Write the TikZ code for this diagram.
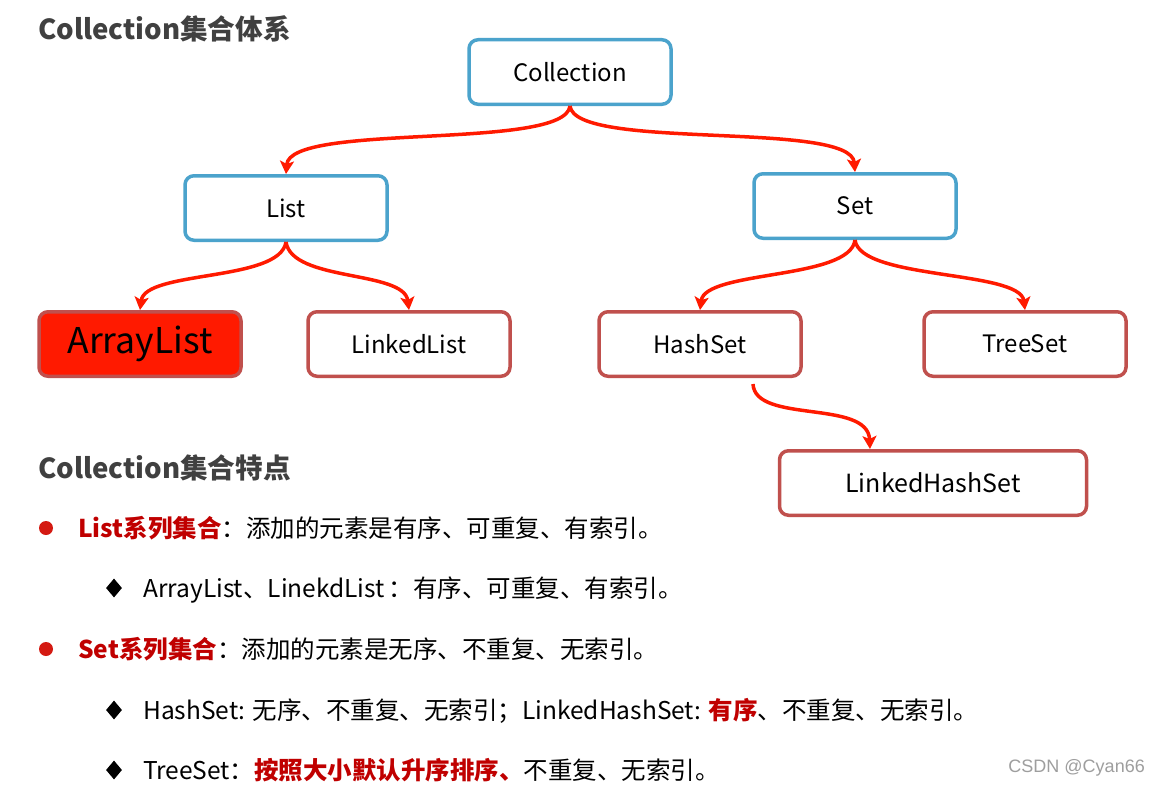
\documentclass[tikz,border=0pt]{standalone}
\usepackage{fontspec}
\setmainfont{Noto Sans CJK SC}
\newfontfamily\wmfont{Liberation Sans}
\usetikzlibrary{arrows.meta,shapes.geometric}
\definecolor{boxblue}{HTML}{4BA3CC}
\definecolor{boxred}{HTML}{C0504D}
\definecolor{arrred}{HTML}{FF1A00}
\definecolor{darkred}{HTML}{C00000}
\definecolor{headgray}{HTML}{404040}
\definecolor{bulred}{HTML}{D41A12}
\definecolor{alfill}{HTML}{FF1A00}
\begin{document}
\begin{tikzpicture}[x=1pt,y=-1pt,
  box/.style={draw, line width=3.5pt, rounded corners=9pt, minimum width=202pt, minimum height=64.5pt, fill=white, inner sep=0pt, font=\fontsize{24}{28}\selectfont},
  bluebox/.style={box, draw=boxblue},
  redbox/.style={box, draw=boxred},
  conn/.style={draw=arrred, line width=3.5pt, -{Stealth[length=13pt,width=14pt,inset=3pt]}},
  head/.style={anchor=base west, inner sep=0pt, text=headgray, font=\bfseries\fontsize{27.6}{32}\selectfont},
  body/.style={anchor=base west, inner sep=0pt, font=\fontsize{24.5}{28}\selectfont},
  dot/.style={circle, fill=bulred, inner sep=0pt, minimum size=14pt},
  dia/.style={diamond, fill=black, inner sep=0pt, minimum width=16pt, minimum height=19pt}]
\path[use as bounding box, fill=white] (0,0) rectangle (1161,784);

% tree
\node[bluebox] (coll) at (570,72) {Collection};
\node[bluebox] (list) at (286,208) {List};
\node[bluebox] (set) at (855,206) {Set};
\node[redbox, fill=alfill, font=\fontsize{35.5}{40}\selectfont] (al) at (140,344) {ArrayList};
\node[redbox] (ll) at (409,344) {LinkedList};
\node[redbox] (hs) at (700,344) {HashSet};
\node[redbox] (ts) at (1025,344) {TreeSet};
\node[redbox, minimum width=307pt, font=\fontsize{25}{28}\selectfont] (lhs) at (933,483) {LinkedHashSet};

\draw[conn] (coll.south) .. controls ++(-5,45) and ++(4,-52) .. (list.north);
\draw[conn] (coll.south) .. controls ++(5,45) and ++(-4,-52) .. (set.north);
\draw[conn] (list.south) .. controls ++(-6,40) and ++(5,-40) .. (al.north);
\draw[conn] (list.south) .. controls ++(6,40) and ++(-5,-40) .. (ll.north);
\draw[conn] (set.south) .. controls ++(-5,40) and ++(5,-40) .. (hs.north);
\draw[conn] (set.south) .. controls ++(5,40) and ++(-5,-40) .. (ts.north);
\coordinate (hsout) at (753,384);
\draw[conn] (hsout) .. controls ++(2,40) and ++(-2,-50) .. (lhs.north -| 870,0);

% headings
\node[head] (h1) at (38,40) {Collection集合体系};
\node[head] (h2) at (38,478) {Collection集合特点};

% bullets
\node[dot] (d1) at (46,528) {};
\node[body] (l1) at (78,537) {{\bfseries\color{darkred}List系列集合}：添加的元素是有序、可重复、有索引。};
\node[dia] (d2) at (114,588) {};
\node[body] (l2) at (143,597) {ArrayList、LinekdList\,：有序、可重复、有索引。};
\node[dot] (d3) at (46,649) {};
\node[body] (l3) at (78,658) {{\bfseries\color{darkred}Set系列集合}：添加的元素是无序、不重复、无索引。};
\node[dia] (d4) at (114,710) {};
\node[body] (l4) at (143,719) {HashSet: 无序、不重复、无索引；LinkedHashSet: {\bfseries\color{darkred}有序}、不重复、无索引。};
\node[dia] (d5) at (114,770) {};
\node[body] (l5) at (143,779) {TreeSet：{\bfseries\color{darkred}按照大小默认升序排序、}不重复、无索引。};

\node[anchor=base east, inner sep=0pt, text=black!38, font=\wmfont\fontsize{18}{20}\selectfont] (wm) at (1145,772) {CSDN @Cyan66};
\end{tikzpicture}
\end{document}
